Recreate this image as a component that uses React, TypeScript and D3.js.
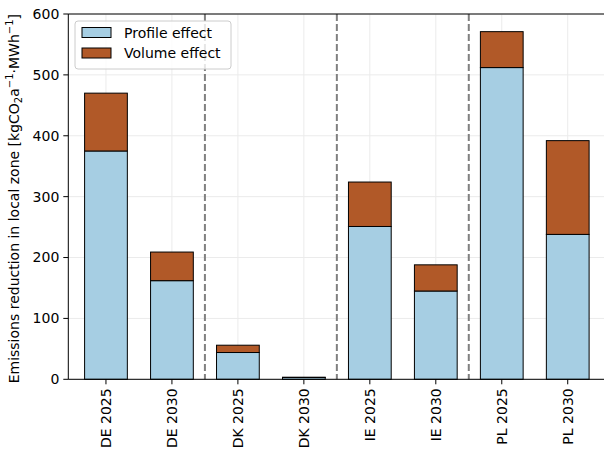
import React from "react";
import * as d3 from "d3";

const categories = ["DE 2025", "DE 2030", "DK 2025", "DK 2030", "IE 2025", "IE 2030", "PL 2025", "PL 2030"];
const profileEffect = [375, 162, 44, 3, 251, 145, 512, 238];
const volumeEffect = [95, 47, 12, 0.4, 73, 43, 59, 154];
const yTicks = [0, 100, 200, 300, 400, 500, 600];
const separators = [1.5, 3.5, 5.5];

const W = 604, H = 457;
const L = 68.3, R = 605.4, T = 14, B = 379.3;
const font = "DejaVu Sans, sans-serif";
const fs = 14;

export default function App() {
  const x = d3.scaleLinear().domain([-0.571, 7.571]).range([L, R]);
  const y = d3.scaleLinear().domain([0, 600]).range([B, T]);
  const bw = x(0.648) - x(0);
  return (
    <svg width={W} height={H} style={{ position: "absolute", left: 0, top: 0, background: "#fff" }} fontFamily={font}>
      {yTicks.map((t) => (
        <line key={"gy" + t} x1={L} x2={R} y1={y(t)} y2={y(t)} stroke="#ebebeb" strokeWidth={1} />
      ))}
      {categories.map((c, i) => (
        <line key={"gx" + c} x1={x(i)} x2={x(i)} y1={T} y2={B} stroke="#ebebeb" strokeWidth={1} />
      ))}
      {separators.map((s) => (
        <line key={"s" + s} x1={x(s)} x2={x(s)} y1={T} y2={B} stroke="#808080" strokeWidth={2} strokeDasharray="7,3" />
      ))}
      {categories.map((c, i) => {
        const p = profileEffect[i];
        const v = volumeEffect[i];
        return (
          <g key={"b" + c}>
            <rect x={x(i) - bw / 2} y={y(p)} width={bw} height={y(0) - y(p)} fill="#a6cee3" stroke="#000" strokeWidth={1} />
            <rect x={x(i) - bw / 2} y={y(p + v)} width={bw} height={y(p) - y(p + v)} fill="#b15928" stroke="#000" strokeWidth={1} />
          </g>
        );
      })}
      <line x1={L} x2={L} y1={T} y2={B} stroke="#000" strokeWidth={1} />
      <line x1={L} x2={R} y1={B} y2={B} stroke="#000" strokeWidth={1} />
      <line x1={L} x2={R} y1={T} y2={T} stroke="#000" strokeWidth={1} />
      {yTicks.map((t) => (
        <g key={"yt" + t}>
          <line x1={L - 5} x2={L} y1={y(t)} y2={y(t)} stroke="#000" strokeWidth={1} />
          <text x={L - 9} y={y(t)} dy="0.35em" textAnchor="end" fontSize={fs} fill="#000">{t}</text>
        </g>
      ))}
      {categories.map((c, i) => (
        <g key={"xt" + c}>
          <line x1={x(i)} x2={x(i)} y1={B} y2={B + 5} stroke="#000" strokeWidth={1} />
          <text transform={`translate(${x(i)},${B + 9}) rotate(-90)`} dy="0.35em" textAnchor="end" fontSize={fs} fill="#000">{c}</text>
        </g>
      ))}
      <text transform={`translate(19,${(T + B) / 2 + 2}) rotate(-90)`} textAnchor="middle" fontSize={fs} fill="#000">
        Emissions reduction in local zone [kgCO
        <tspan fontSize={10} dy={3}>2</tspan>
        <tspan dy={-3}>a</tspan>
        <tspan fontSize={10} dy={-6}>−1</tspan>
        <tspan dy={6}>·MWh</tspan>
        <tspan fontSize={10} dy={-6}>−1</tspan>
        <tspan dy={6}>]</tspan>
      </text>
      <g>
        <rect x={75} y={21} width={156} height={48} rx={3} fill="#fff" fillOpacity={0.8} stroke="#cccccc" strokeWidth={1} />
        <rect x={82} y={27.5} width={29} height={10} fill="#a6cee3" stroke="#000" strokeWidth={1} />
        <text x={124} y={33} dy="0.35em" fontSize={fs} fill="#000">Profile effect</text>
        <rect x={82} y={48} width={29} height={10} fill="#b15928" stroke="#000" strokeWidth={1} />
        <text x={124} y={53} dy="0.35em" fontSize={fs} fill="#000">Volume effect</text>
      </g>
    </svg>
  );
}
